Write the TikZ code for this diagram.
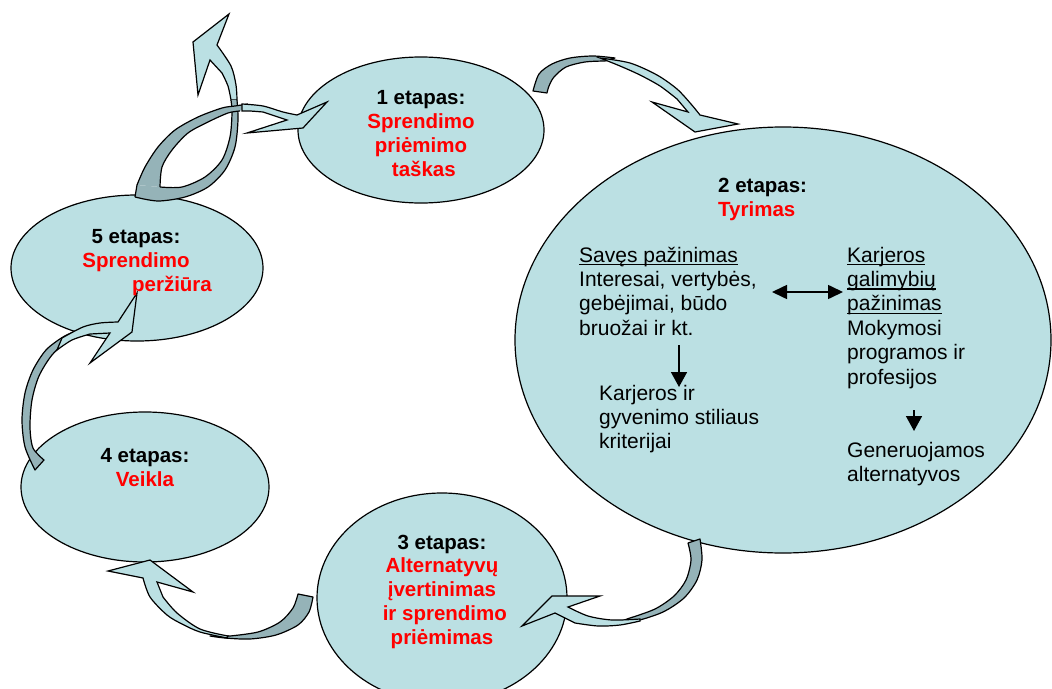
\documentclass[tikz,border=0pt]{standalone}
\usepackage{fontspec}
\setmainfont{Liberation Sans}
\usetikzlibrary{shapes.geometric,arrows.meta}
\definecolor{lteal}{HTML}{BBE0E3}
\definecolor{dteal}{HTML}{95B3B8}
\definecolor{myred}{HTML}{FF0000}
\newcommand\rd[1]{\textcolor{myred}{#1}}
\newcommand\myul[1]{\setbox0\hbox{#1}\rlap{\rule[-3.2pt]{\wd0}{1.2pt}}\box0}
\begin{document}
\begin{tikzpicture}[x=1pt,y=-1pt,
  stage/.style={ellipse, draw=black, line width=1.2pt, fill=lteal, inner sep=0pt},
  lbl/.style={font=\fontsize{20.5}{24}\selectfont\bfseries, align=center, anchor=base, inner sep=0pt},
  body/.style={font=\fontsize{21}{24.4}\selectfont, align=left, anchor=base west, inner sep=0pt},
  back/.style={fill=dteal, draw=black, line width=1.2pt, line join=round},
  front/.style={fill=lteal, draw=black, line width=1.2pt, line join=miter},
  edge/.style={draw=black, line width=1.2pt},
  link/.style={line width=1.6pt, -{Triangle[length=15pt,width=16pt]}},
  dlink/.style={line width=1.6pt, {Triangle[length=15pt,width=14pt]}-{Triangle[length=15pt,width=14pt]}}]
\useasboundingbox (0,0) rectangle (1052,688);
\clip (0,0) rectangle (1052,688);

% stages
\node[stage, minimum width=246pt, minimum height=146pt] (e1) at (421,130) {};
\node[stage, minimum width=536pt, minimum height=426pt] (e2) at (783,340) {};
\node[stage, minimum width=250pt, minimum height=210pt] (e3) at (442,598) {};
\node[stage, minimum width=248pt, minimum height=150pt] (e4) at (145,487) {};
\node[stage, minimum width=252pt, minimum height=146pt] (e5) at (137,268) {};

% arrow 1 -> 2
\filldraw[back] plot[smooth] coordinates {(533,91) (539,74) (552,64) (570,58) (593,56) (615,58)}
  -- plot[smooth] coordinates {(605,61) (585,62) (566,67) (554,77) (549,86) (547,93)} -- cycle;
\filldraw[front] plot[smooth] coordinates {(600,58) (630,63) (657,75) (677,89) (691,104) (700,115)}
  -- (738,124) -- (695,132) -- (652,102) -- (688,112)
  -- plot[smooth] coordinates {(677,99) (660,86) (640,75) (620,66) (600,58)} -- cycle;

% arrow 2 -> 3
\filldraw[back] plot[smooth] coordinates {(700,539) (702,560) (697,580) (684,598) (663,612) (636,621) (610,625)}
  -- plot[smooth] coordinates {(630,618) (655,609) (674,596) (686,580) (691,560) (688,543)} -- cycle;
\filldraw[front] plot[smooth] coordinates {(640,619) (612,620) (588,616) (568,607)}
  -- (600,596) -- (552,596) -- (522,626) -- (555,613)
  -- plot[smooth] coordinates {(575,623) (598,626) (620,625) (640,621)} -- cycle;

% arrow 3 -> 4
\filldraw[back] plot[smooth] coordinates {(313,597) (309,612) (298,625) (276,635) (250,639) (225,638) (210,636)}
  -- plot[smooth] coordinates {(230,636) (258,632) (280,622) (293,608) (298,594)} -- cycle;
\filldraw[front] plot[smooth] coordinates {(227,638) (200,632) (182,624) (167,615) (150,597) (143,578)}
  -- (108,571) -- (150,560) -- (193,592) -- (157,582)
  -- plot[smooth] coordinates {(163,597) (177,613) (200,629) (228,636)} -- cycle;

% arrow 4 -> 5
\filldraw[back] plot[smooth] coordinates {(35,470) (25,447) (22,420) (25,393) (33,370) (46,350) (63,337) (78,330)}
  -- plot[smooth] coordinates {(70,338) (52,355) (39,376) (32,400) (30,427) (33,448) (44,460)} -- cycle;
\filldraw[front] plot[smooth] coordinates {(62,338) (83,327) (100,323) (118,322)}
  -- (137,293) -- (132,332) -- (90,363) -- (110,333)
  -- plot[smooth] coordinates {(90,334) (72,340) (57,350)} -- cycle;

% arrows out of stage 5: shared tail, one leaving upwards, one to stage 1
\filldraw[front] plot[smooth] coordinates {(237,100) (236,85) (231,66) (217,45)}
  -- (229,14) -- (193,42) -- (198,95) -- (210,60)
  -- plot[smooth] coordinates {(222,73) (228,86) (231,100)} -- cycle;
\fill[dteal] (137,185) -- (135,197)
  -- plot[smooth] coordinates {(135,197) (158,201) (185,197) (208,187) (225,170) (235,147) (238,120) (237,100)}
  -- (231,100)
  -- plot[smooth] coordinates {(231,100) (232,113) (230,137) (222,160) (205,177) (182,187) (160,187)} -- cycle;
\draw[edge] plot[smooth] coordinates {(135,197) (158,201) (185,197) (208,187) (225,170) (235,147) (238,120) (237,100)};
\draw[edge] plot[smooth] coordinates {(160,187) (182,187) (205,177) (222,160) (230,137) (232,113) (231,100)};
\draw[edge] (137,185) -- (135,197);
\fill[dteal] plot[smooth] coordinates {(137,185) (145,167) (158,147) (175,130) (198,117) (222,108) (235,106) (248,104)}
  -- plot[smooth] coordinates {(240,111) (228,113) (208,122) (188,133) (172,150) (162,167) (160,187)} -- cycle;
\draw[edge] plot[smooth] coordinates {(137,185) (145,167) (158,147) (175,130) (198,117) (222,108) (235,106) (248,104)};
\draw[edge] plot[smooth] coordinates {(240,111) (228,113) (208,122) (188,133) (172,150) (162,167) (160,187)};
\filldraw[front] plot[smooth] coordinates {(242,104) (263,106) (283,112) (297,115)}
  -- (327,102) -- (303,128) -- (247,133) -- (287,120)
  -- plot[smooth] coordinates {(263,112) (250,111) (242,111)} -- cycle;

% stage labels (base anchor = baseline of the last line)
\node[lbl] (t1) at (421,176.5) {1 etapas:\\\rd{Sprendimo}\\\rd{priėmimo}\\\rd{~taškas}};
\node[lbl, align=left, anchor=base west] (t2) at (718,216) {2 etapas:\\\rd{Tyrimas}};
\node[lbl, font=\fontsize{20.5}{23.7}\selectfont\bfseries] (t3) at (442,644) {3 etapas:\\\rd{Alternatyvų}\\\rd{įvertinimas}\\\rd{~ir sprendimo}\\\rd{priėmimas}};
\node[lbl] (t4) at (145,486) {4 etapas:\\\rd{Veikla}};
\node[lbl] (t5) at (136,291.5) {5 etapas:\\\rd{Sprendimo}\\\hspace*{72pt}\rd{peržiūra}};

% research content
\node[body] (s1) at (579,335.2) {\myul{Savęs pažinimas}\\Interesai, vertybės,\\gebėjimai, būdo\\bruožai ir kt.};
\node[body] (s2) at (599,448.8) {Karjeros ir\\gyvenimo stiliaus\\kriterijai};
\node[body] (s3) at (847,384) {\myul{Karjeros}\\\myul{galimybių}\\\myul{pažinimas}\\Mokymosi\\programos ir\\profesijos};
\node[body] (s4) at (847,481.4) {Generuojamos\\alternatyvos};

\coordinate (da) at (772,292);
\coordinate (db) at (843,292);
\coordinate (la) at (679,345);
\coordinate (lb) at (679,387);
\coordinate (ra) at (914,410);
\coordinate (rb) at (914,431);
\draw[dlink] (da) -- (db);
\draw[link] (la) -- (lb);
\draw[link] (ra) -- (rb);
\end{tikzpicture}
\end{document}
